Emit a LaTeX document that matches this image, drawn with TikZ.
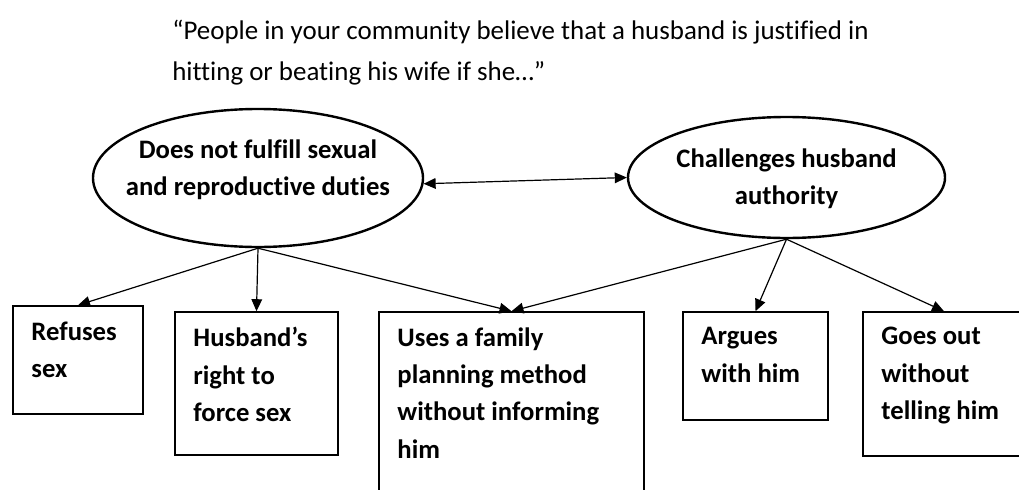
\documentclass[tikz,border=0pt]{standalone}
\usepackage{fontspec}
\setmainfont{Carlito}[Ligatures=NoCommon]
\usetikzlibrary{shapes.geometric,arrows.meta}

\begin{document}
\begin{tikzpicture}[x=0.75pt,y=-0.75pt,>={Triangle[length=9pt,width=8pt]}]

	\tikzset{
		oval/.style={draw,ellipse,line width=1.8pt,inner sep=0pt},
		ovaltext/.style={font=\bfseries\fontsize{20}{28}\selectfont,align=center,yshift=#1},
		box/.style={draw,line width=1.2pt,inner sep=0pt},
		boxtext/.style={font=\bfseries\fontsize{20}{28}\selectfont,align=left,anchor=north west,inner sep=0pt,xshift=14.25pt,yshift=-12pt},
		arr/.style={line width=0.9pt,->}
	}

	\useasboundingbox (0,0) rectangle (1019,489);

	% question
	\node[font=\fontsize{20.2}{30.75}\selectfont,align=left,anchor=north west,inner sep=0pt] (question) at (172,20)
		{“People in your community believe that a husband is justified in\\hitting or beating his wife if she…”};

	% the two ovals
	\node[oval,minimum width=247.5pt,minimum height=103.5pt,
		label={[ovaltext=6pt]center:{Does not fulfill sexual\\and reproductive duties}}] (duties) at (258,178) {};
	\node[oval,minimum width=237.75pt,minimum height=90.75pt,
		label={[ovaltext=-1pt]center:{Challenges husband\\authority}}] (authority) at (786.5,177.5) {};

	\draw[line width=0.9pt,<->] (duties.-2) -- (authority.west);

	% the boxes
	\node[box,minimum width=97.5pt,minimum height=81pt,
		label={[boxtext]north west:{Refuses\\sex}}] (refuses) at (78,360) {};
	\node[box,minimum width=122.25pt,minimum height=107.25pt,
		label={[boxtext]north west:{Husband’s\\right to\\force sex}}] (force) at (256.5,383.5) {};
	\node[box,minimum width=198.75pt,minimum height=163.5pt,
		label={[boxtext]north west:{Uses a family\\planning method\\without informing\\him}}] (planning) at (511.5,421) {};
	\node[box,minimum width=108.75pt,minimum height=81pt,
		label={[boxtext]north west:{Argues\\with him}}] (argues) at (755.5,366) {};
	\node[box,minimum width=121.5pt,minimum height=108pt,
		label={[boxtext]north west:{Goes out\\without\\telling him}}] (goesout) at (944,384) {};

	% arrows
	\foreach \t in {refuses,force,planning}
		\draw[arr] (duties.south) -- (\t.north);
	\foreach \t in {planning,argues,goesout}
		\draw[arr] (authority.south) -- (\t.north);

\end{tikzpicture}
\end{document}
